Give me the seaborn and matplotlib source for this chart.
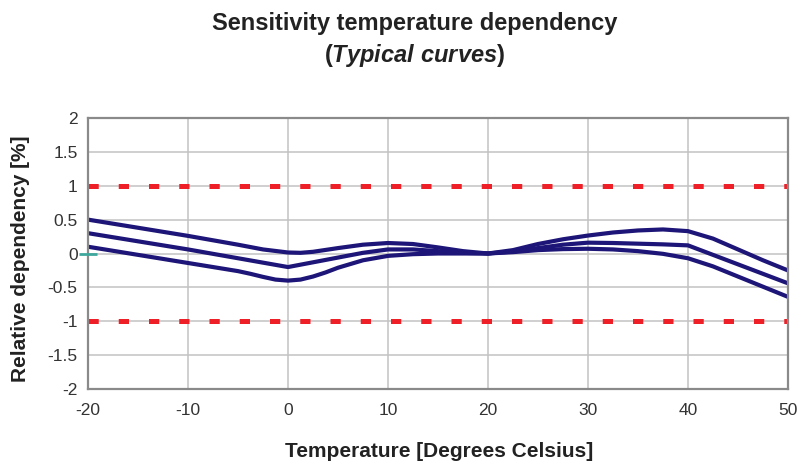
import pandas as pd
import matplotlib
matplotlib.use("Agg")
import matplotlib.pyplot as plt
import seaborn as sns

# values
upper_x = [-20, -15, -10, -5, -2.5, 0, 1.25, 2.5, 5, 7.5, 10, 12.5, 15, 17.5, 20,
           22.5, 25, 27.5, 30, 32.5, 35, 37.5, 40, 42.5, 45, 47.5, 50]
upper_y = [0.50, 0.38, 0.26, 0.13, 0.06, 0.015, 0.01, 0.025, 0.08, 0.13, 0.155, 0.14, 0.09, 0.035, 0.00,
           0.05, 0.14, 0.21, 0.265, 0.31, 0.34, 0.355, 0.33, 0.22, 0.06, -0.10, -0.25]
middle_x = [-20, -15, -10, -5, -2.5, 0, 2.5, 5, 7.5, 10, 12.5, 15, 17.5, 20,
            22.5, 25, 27.5, 30, 32.5, 35, 37.5, 40, 42.5, 45, 47.5, 50]
middle_y = [0.30, 0.18, 0.06, -0.07, -0.135, -0.20, -0.13, -0.06, 0.01, 0.06, 0.06, 0.035, 0.01, 0.00,
            0.03, 0.08, 0.13, 0.16, 0.155, 0.145, 0.135, 0.12, -0.02, -0.16, -0.30, -0.44]
lower_x = [-20, -15, -10, -5, -3.75, -2.5, -1.25, 0, 1.25, 2.5, 3.75, 5, 7.5, 10, 12.5, 15, 17.5, 20,
           22.5, 25, 27.5, 30, 32.5, 35, 37.5, 40, 42.5, 45, 47.5, 50]
lower_y = [0.10, -0.02, -0.14, -0.26, -0.30, -0.345, -0.385, -0.40, -0.385, -0.34, -0.28, -0.21, -0.10,
           -0.035, -0.01, 0.00, 0.00, 0.00, 0.02, 0.05, 0.065, 0.07, 0.06, 0.035, -0.005, -0.07,
           -0.19, -0.34, -0.49, -0.64]
limit_x = [-20, 50]
limit_hi = [1, 1]
limit_lo = [-1, -1]
x_ticks = [-20, -10, 0, 10, 20, 30, 40, 50]
y_ticks = [-2, -1.5, -1, -0.5, 0, 0.5, 1, 1.5, 2]

df = pd.DataFrame({
    "temp": upper_x + middle_x + lower_x,
    "dep": upper_y + middle_y + lower_y,
    "curve": ["upper"] * len(upper_x) + ["middle"] * len(middle_x) + ["lower"] * len(lower_x),
})

sns.set_style("white")
plt.rcParams["font.family"] = ["Liberation Sans", "DejaVu Sans"]
plt.rcParams["axes.unicode_minus"] = False
plt.rcParams["mathtext.fontset"] = "custom"
plt.rcParams["mathtext.it"] = "Liberation Sans:italic:bold"
plt.rcParams["mathtext.rm"] = "Liberation Sans:bold"

fig = plt.figure(figsize=(8.03, 4.66), dpi=100)
ax = fig.add_axes([0.1096, 0.1652, 0.8717, 0.5816])

navy = "#1d1577"
red = "#ee1f26"

# limit lines
ax.plot(limit_x, limit_hi, color=red, lw=3.6, dashes=(2.05, 4.0), solid_capstyle="butt")
ax.plot(limit_x, limit_lo, color=red, lw=3.6, dashes=(2.05, 4.0), solid_capstyle="butt")

sns.lineplot(data=df, x="temp", y="dep", units="curve", estimator=None, sort=False,
             color=navy, lw=3.0, ax=ax, legend=False)

# small teal mark at the origin of the y axis
ax.plot([-20], [0], marker="_", markersize=13, mew=2, color="#3ea79d", clip_on=False, zorder=5)

ax.set_xlim(-20, 50)
ax.set_ylim(-2, 2)
ax.set_xticks(x_ticks)
ax.set_yticks(y_ticks)
ax.set_yticklabels([f"{v:g}" for v in y_ticks])
ax.grid(True, color="#c2c2c2", lw=1.1)
for s in ax.spines.values():
    s.set_color("#8a8a8a")
    s.set_linewidth(1.6)
ax.tick_params(axis="both", colors="#8a8a8a", labelcolor="#333333", labelsize=12.5,
               length=4, width=1.1, direction="out")
ax.tick_params(axis="x", pad=6)
ax.set_xlabel("")
ax.set_ylabel("")

fig.text(0.5467, 0.0193, "Temperature [Degrees Celsius]", ha="center", va="baseline",
         fontsize=15, fontweight="bold", color="#222222")
fig.text(0.025, 0.444, "Relative dependency [%]", ha="center", va="center", rotation=90,
         fontsize=15, fontweight="bold", color="#222222")

fig.text(0.516, 0.9356, "Sensitivity temperature dependency", ha="center", va="baseline",
         fontsize=17, fontweight="bold", color="#222222")
fig.text(0.516, 0.867, r"($\it{Typical\ curves}$)", ha="center", va="baseline",
         fontsize=17, fontweight="bold", color="#222222")

fig.savefig("out.png", dpi=100, facecolor="white")
